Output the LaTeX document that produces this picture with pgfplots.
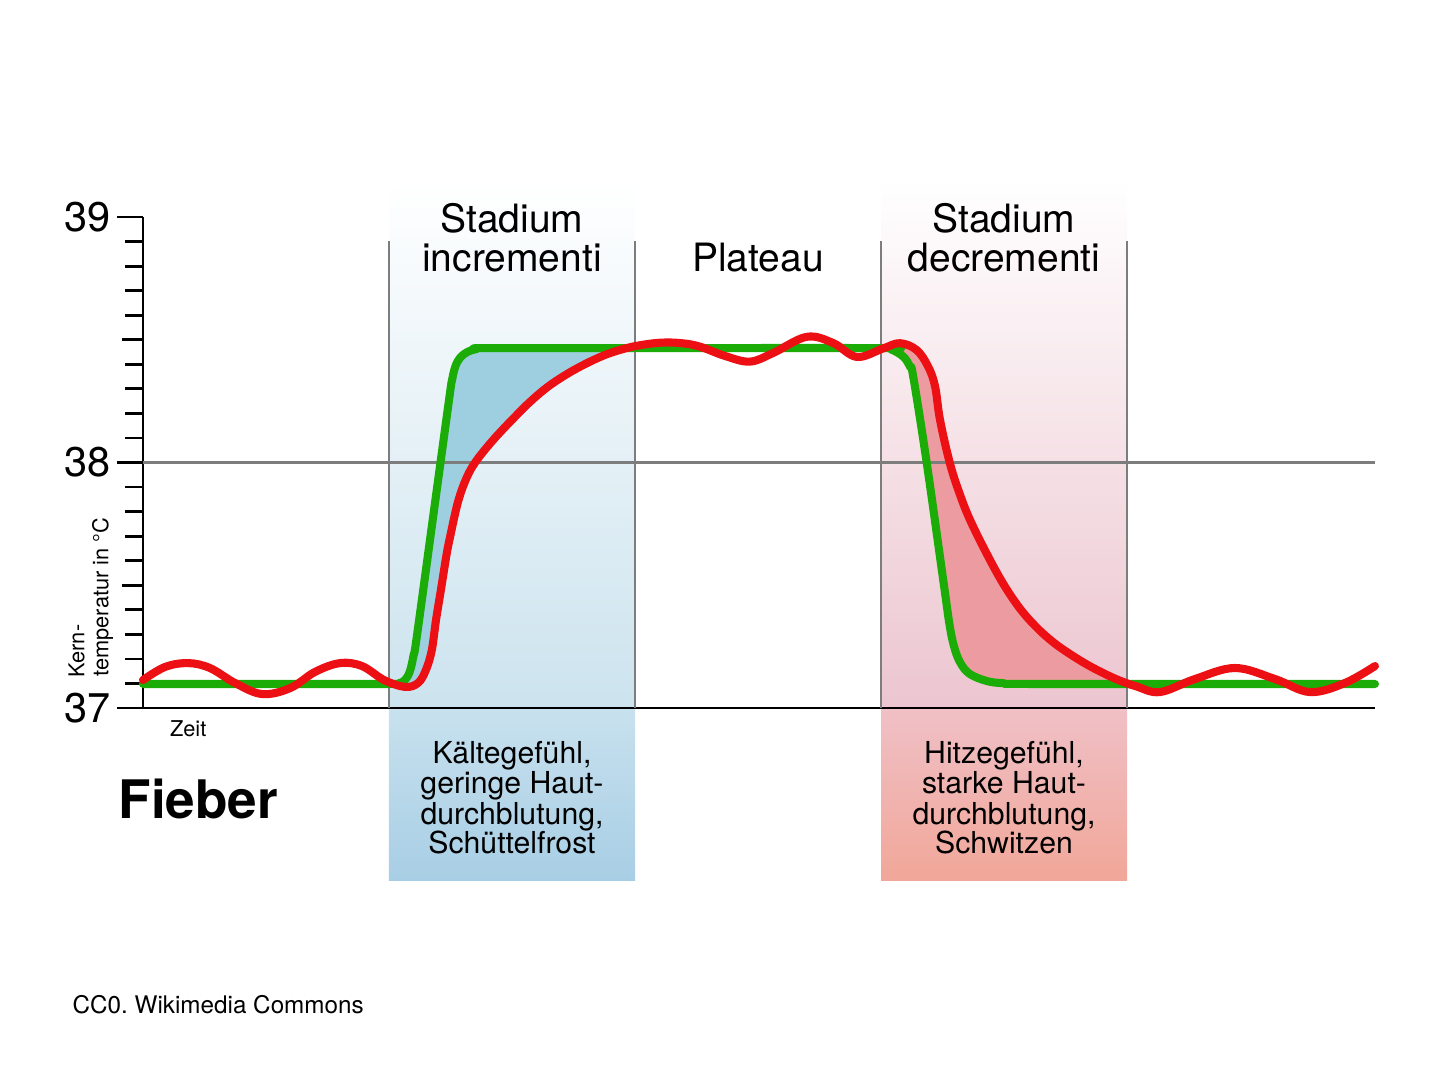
\documentclass[border=0pt]{standalone}
\usepackage{pgfplots}
\pgfplotsset{compat=1.18}
\usepackage{pgfplotstable}
\usepgfplotslibrary{fillbetween}
\usepackage{fontspec}
\setmainfont{TeX Gyre Heros}

\definecolor{cgreen}{RGB}{28,172,8}
\definecolor{cred}{RGB}{236,16,20}
\definecolor{gridgray}{RGB}{125,125,125}
\definecolor{bluemid}{RGB}{204,227,238}
\definecolor{bluebox1}{RGB}{200,225,238}
\definecolor{bluebox2}{RGB}{168,206,229}
\definecolor{redmid}{RGB}{236,197,208}
\definecolor{redbox1}{RGB}{240,192,198}
\definecolor{redbox2}{RGB}{241,167,153}
\definecolor{bluefill}{RGB}{158,207,224}
\definecolor{redfill}{RGB}{236,156,160}

\pgfplotstableread{
x y
0.000 37.098
0.500 37.098
1.000 37.098
1.040 37.101
1.065 37.114
1.085 37.150
1.100 37.215
1.113 37.290
1.184 37.813
1.245 38.262
1.256 38.335
1.270 38.392
1.290 38.428
1.320 38.451
1.355 38.462
1.400 38.466
2.000 38.466
2.996 38.466
3.040 38.461
3.091 38.431
3.118 38.390
3.131 38.350
3.186 37.998
3.253 37.521
3.280 37.331
3.300 37.240
3.325 37.180
3.362 37.138
3.430 37.110
3.497 37.101
3.606 37.098
4.500 37.098
5.008 37.098
}\greendata

\pgfplotstableread{
x y
0.000 37.114
0.089 37.167
0.183 37.183
0.272 37.163
0.374 37.102
0.484 37.057
0.598 37.081
0.699 37.147
0.801 37.183
0.890 37.171
0.980 37.114
1.065 37.086
1.118 37.102
1.150 37.155
1.174 37.236
1.191 37.358
1.211 37.481
1.235 37.631
1.250 37.705
1.265 37.775
1.280 37.838
1.300 37.900
1.325 37.958
1.350 38.000
1.380 38.040
1.420 38.088
1.460 38.132
1.504 38.178
1.570 38.244
1.641 38.305
1.710 38.352
1.776 38.390
1.845 38.424
1.911 38.450
2.000 38.474
2.102 38.488
2.190 38.486
2.264 38.472
2.366 38.434
2.467 38.411
2.561 38.446
2.698 38.512
2.805 38.487
2.902 38.430
3.009 38.465
3.077 38.486
3.145 38.458
3.192 38.390
3.220 38.309
3.240 38.173
3.280 37.997
3.320 37.872
3.362 37.766
3.430 37.628
3.497 37.506
3.565 37.405
3.633 37.328
3.700 37.268
3.768 37.220
3.836 37.178
3.904 37.142
3.970 37.112
4.039 37.088
4.134 37.065
4.276 37.118
4.439 37.163
4.602 37.118
4.744 37.065
4.886 37.102
5.008 37.171
}\reddata

\newcommand\fTitle{\fontsize{11.1}{11.1}\selectfont}
\newcommand\fBox{\fontsize{8.6}{8.6}\selectfont}

\begin{document}
\frenchspacing
\begin{tikzpicture}
\begin{axis}[
  set layers,
  x=2.46cm, y=2.455cm,
  xmin=0, xmax=5.008, ymin=37, ymax=39,
  axis lines*=left,
  axis line style={line width=0.8pt, black},
  xtick=\empty,
  ytick={37,38,39},
  minor ytick={37.1,37.2,37.3,37.4,37.6,37.7,37.8,37.9,38.1,38.2,38.3,38.4,38.6,38.7,38.8,38.9},
  extra y ticks={37.5,38.5},
  extra y tick labels={},
  extra y tick style={major tick length=6pt},
  tick align=outside,
  major tick length=7.4pt,
  minor tick length=5pt,
  every tick/.style={line width=0.8pt, black},
  yticklabel style={font=\fontsize{11.8}{11.8}\selectfont, inner sep=0pt, xshift=-1.6pt},
  /pgf/number format/assume math mode=true,
  clip=false,
]
% background shadings
\begin{pgfonlayer}{axis background}
\fill[top color=white, bottom color=bluemid] (axis cs:1,39.15) rectangle (axis cs:2,37);
\fill[top color=bluebox1, bottom color=bluebox2] (axis cs:1,37) rectangle (axis cs:2,36.299);
\fill[top color=white, bottom color=redmid] (axis cs:3,39.15) rectangle (axis cs:4,37);
\fill[top color=redbox1, bottom color=redbox2] (axis cs:3,37) rectangle (axis cs:4,36.299);
\end{pgfonlayer}

% named curves (invisible) for the fills
\addplot[draw=none, smooth, tension=0.6, name path=G] table {\greendata};
\addplot[draw=none, smooth, tension=0.6, name path=R] table {\reddata};
\addplot[bluefill, draw=none] fill between[of=G and R, soft clip={domain=1:1.98}];
\addplot[redfill, draw=none] fill between[of=G and R, soft clip={domain=3:4}];

% grid lines
\draw[gridgray, line width=0.6pt] (axis cs:0,38) -- (axis cs:5.008,38);
\draw[gridgray, line width=0.6pt] (axis cs:1,37) -- (axis cs:1,38.902);
\draw[gridgray, line width=0.6pt] (axis cs:2,37) -- (axis cs:2,38.902);
\draw[gridgray, line width=0.6pt] (axis cs:3,37) -- (axis cs:3,38.902);
\draw[gridgray, line width=0.6pt] (axis cs:4,37) -- (axis cs:4,38.902);

% curves
\addplot[cgreen, line width=2.3pt, smooth, tension=0.6, line cap=round, line join=round] table {\greendata};
\addplot[cred, line width=2.3pt, smooth, tension=0.6, line cap=round, line join=round] table {\reddata};

% titles
\node[anchor=base, font=\fTitle] at (axis cs:1.5,38.935) {Stadium};
\node[anchor=base, font=\fTitle] at (axis cs:1.5,38.777) {incrementi};
\node[anchor=base, font=\fTitle] at (axis cs:2.5,38.777) {Plateau};
\node[anchor=base, font=\fTitle] at (axis cs:3.5,38.935) {Stadium};
\node[anchor=base, font=\fTitle] at (axis cs:3.5,38.777) {decrementi};

% box texts
\node[anchor=base, font=\fBox] at (axis cs:1.5,36.772) {Kältegefühl,};
\node[anchor=base, font=\fBox] at (axis cs:1.5,36.650) {geringe Haut-};
\node[anchor=base, font=\fBox] at (axis cs:1.5,36.527) {durchblutung,};
\node[anchor=base, font=\fBox] at (axis cs:1.5,36.409) {Schüttelfrost};
\node[anchor=base, font=\fBox] at (axis cs:3.5,36.772) {Hitzegefühl,};
\node[anchor=base, font=\fBox] at (axis cs:3.5,36.650) {starke Haut-};
\node[anchor=base, font=\fBox] at (axis cs:3.5,36.527) {durchblutung,};
\node[anchor=base, font=\fBox] at (axis cs:3.5,36.409) {Schwitzen};

% other labels
\node[anchor=base west, inner sep=0pt, font=\fontsize{15.1}{15}\selectfont\bfseries] at (axis cs:-0.1016,36.552) {Fieber};
\node[anchor=base west, inner sep=0pt, font=\fontsize{6.2}{6.2}\selectfont] at (axis cs:0.107,36.883) {Zeit};
\node[anchor=base west, inner sep=0pt, font=\fontsize{6.9}{7}\selectfont] at (axis cs:-0.2886,35.754) {CC0. Wikimedia Commons};
\node[anchor=base west, inner sep=0pt, rotate=90, font=\fontsize{6.2}{6.2}\selectfont] at (axis cs:-0.2386,37.122) {Kern-};
\node[anchor=base west, inner sep=0pt, rotate=90, font=\fontsize{6.2}{6.2}\selectfont] at (axis cs:-0.1411,37.126) {temperatur in °C};

\coordinate (TL) at (axis cs:-0.5813,39.884);
\coordinate (BR) at (axis cs:5.2724,35.4847);
\end{axis}
\pgfresetboundingbox
\useasboundingbox (TL) rectangle (BR);
\end{tikzpicture}
\end{document}
